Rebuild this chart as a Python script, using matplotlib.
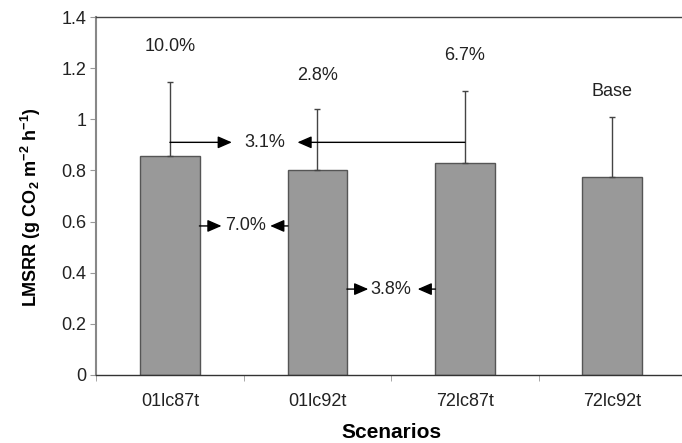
import matplotlib
matplotlib.use("Agg")
import matplotlib.pyplot as plt
import numpy as np

plt.rcParams['font.family'] = ['Liberation Sans', 'DejaVu Sans']
plt.rcParams['mathtext.fontset'] = 'custom'
plt.rcParams['mathtext.rm'] = 'Liberation Sans:bold'
plt.rcParams['mathtext.it'] = 'Liberation Sans:bold'
plt.rcParams['mathtext.bf'] = 'Liberation Sans:bold'

categories = ['01lc87t', '01lc92t', '72lc87t', '72lc92t']
means = [0.855, 0.80, 0.83, 0.775]
errors = [0.29, 0.24, 0.28, 0.235]
top_labels = ['10.0%', '2.8%', '6.7%', 'Base']
top_label_y = [1.285, 1.17, 1.25, 1.11]
yticks = [0, 0.2, 0.4, 0.6, 0.8, 1.0, 1.2, 1.4]
ytick_labels = ['0', '0.2', '0.4', '0.6', '0.8', '1', '1.2', '1.4']

# comparison annotations: (text, y, x_left_start, x_left_tip, x_text, x_right_tip, x_right_start)
comparisons = [
    ('3.1%', 0.91, 0.0, 0.42, 0.64, 0.865, 2.0),
    ('7.0%', 0.583, 0.2, 0.35, 0.51, 0.68, 0.8),
    ('3.8%', 0.336, 1.2, 1.345, 1.50, 1.68, 1.8),
]

fig = plt.figure(figsize=(6.82, 4.43), dpi=100)
ax = fig.add_axes([0.141, 0.1535, 0.865, 0.808])

x = np.arange(len(categories))
ax.bar(x, means, width=0.405, color='#999999', edgecolor='#555555', linewidth=1.0, zorder=2)
ax.errorbar(x, means, yerr=[np.zeros(len(errors)), errors], fmt='none', ecolor='#444444',
            elinewidth=1.0, capsize=2.5, capthick=1.0, zorder=3)

fs = 13
for xi, lab, ly in zip(x, top_labels, top_label_y):
    ax.text(xi, ly, lab, ha='center', va='center', fontsize=fs, color='#222222')

arrowprops = dict(arrowstyle='-|>,head_length=0.85,head_width=0.37', color='black', lw=1.0,
                  shrinkA=0, shrinkB=0)
for txt, yy, xl0, xl1, xt, xr1, xr0 in comparisons:
    ax.annotate('', xy=(xl1, yy), xytext=(xl0, yy), arrowprops=arrowprops, zorder=4)
    ax.annotate('', xy=(xr1, yy), xytext=(xr0, yy), arrowprops=arrowprops, zorder=4)
    ax.text(xt, yy, txt, ha='center', va='center', fontsize=fs, color='#222222')

ax.set_xlim(-0.5, 3.5)
ax.set_ylim(0, 1.4)
ax.set_yticks(yticks)
ax.set_yticklabels(ytick_labels, fontsize=fs, color='#222222')
ax.set_xticks(x)
ax.set_xticklabels(categories, fontsize=fs, color='#222222')
ax.set_xticks(np.arange(-0.5, 3.6, 1.0), minor=True)
ax.tick_params(axis='x', which='major', length=0, pad=13)
ax.tick_params(axis='x', which='minor', length=4, color='#999999', direction='out')
ax.tick_params(axis='y', which='major', length=4, color='#999999', direction='out', pad=3)

ax.spines['left'].set_color('#888888')
ax.spines['left'].set_linewidth(1.5)
ax.spines['bottom'].set_color('#333333')
ax.spines['bottom'].set_linewidth(1.0)
ax.spines['top'].set_color('#444444')
ax.spines['top'].set_linewidth(1.0)
ax.spines['right'].set_visible(False)

ax.set_xlabel('Scenarios', fontsize=15, fontweight='bold', labelpad=9)
ax.set_ylabel(r'LMSRR (g CO$_\mathregular{2}$ m$^\mathregular{-2}$ h$^\mathregular{-1}$)',
              fontsize=13, fontweight='bold', labelpad=10)
ax.yaxis.set_label_coords(-0.09, 0.47)

fig.savefig('out.png', dpi=100)
